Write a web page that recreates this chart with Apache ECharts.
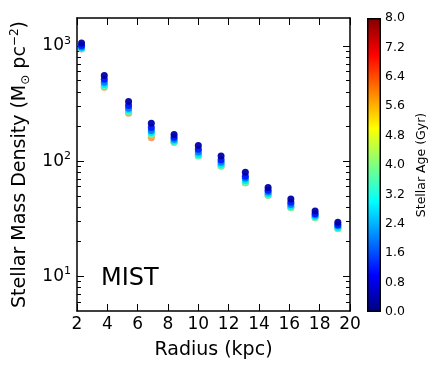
<!DOCTYPE html>
<html style="height: 100%">
<head>
    <meta charset="utf-8">
    <title>MIST</title>
</head>
<body style="height: 100%; margin: 0">
<div id="container" style="width: 429px; height: 366px"></div>
<script type="text/javascript" src="https://cdn.jsdelivr.net/npm/echarts@6.0.0/dist/echarts.min.js"></script>
<script type="text/javascript">
// radial bins (kpc)
var radius = [2.3, 3.8, 5.4, 6.9, 8.4, 10.0, 11.5, 13.1, 14.6, 16.1, 17.7, 19.2];
// stellar ages (Gyr), drawn oldest first so the young ones lie on top
var ages = [6.6, 5.6, 3.6, 2.8, 2.0, 1.2, 0.3];
// stellar mass density per age (Msun pc^-2)
var dens66 = [942, 438, 261, 160, 146, 112, 91, 65, 50.5, 39.5, 32.5, 26];
var dens56 = [944, 442, 264, 163, 146, 112, 91, 65, 50.5, 39.5, 32.5, 26];
var dens36 = [945, 450, 270, 170, 146, 111, 91, 65, 50.5, 39.5, 32.5, 26];
var dens28 = [960, 462, 278, 177, 150, 115, 94, 68, 52, 40.5, 33, 26.5];
var dens20 = [980, 485, 288, 185, 155, 120, 98, 71, 54, 42, 34, 27.5];
var dens12 = [1010, 515, 305, 196, 161, 127, 103, 74, 56, 44, 35, 28];
var dens03 = [1060, 555, 330, 213, 170, 137, 111, 80, 59, 47, 37, 29.5];
var densByAge = [dens66, dens56, dens36, dens28, dens20, dens12, dens03];
var xTicks = [2, 4, 6, 8, 10, 12, 14, 16, 18, 20];
var yMajor = [10, 100, 1000];
var yMinor = [6, 7, 8, 9, 20, 30, 40, 50, 60, 70, 80, 90, 200, 300, 400, 500, 600, 700, 800, 900];
var ageMax = 8;

function clamp(v) { return Math.max(0, Math.min(1, v)); }
function jet(t) {
    var r = clamp(1.5 - Math.abs(4 * t - 3));
    var g = clamp(1.5 - Math.abs(4 * t - 2));
    var b = clamp(1.5 - Math.abs(4 * t - 1));
    return 'rgb(' + Math.round(r * 255) + ',' + Math.round(g * 255) + ',' + Math.round(b * 255) + ')';
}

var jetStops = [];
for (var i = 0; i <= 40; i++) {
    jetStops.push({ offset: i / 40, color: jet(i / 40) });
}

var font = 'DejaVu Sans';
var dom = document.getElementById('container');
var myChart = echarts.init(dom);

var scatterSeries = ages.map(function (age, k) {
    return {
        type: 'scatter',
        xAxisIndex: 0,
        yAxisIndex: 0,
        symbolSize: 7,
        itemStyle: { color: jet(age / ageMax), opacity: age > 5 ? 0.5 : 0.95 },
        data: radius.map(function (r, j) { return [r, densByAge[k][j], age]; }),
        silent: true,
        z: 3 + k
    };
});

function yAxisCfg(pos, values, len, labels) {
    return {
        type: 'log',
        gridIndex: 0,
        position: pos,
        min: 5,
        max: 1750,
        logBase: 10,
        axisLine: { show: labels, lineStyle: { color: '#000', width: 1.5 } },
        axisTick: { show: true, inside: true, length: len, customValues: values, lineStyle: { color: '#000', width: 1 } },
        splitLine: { show: false },
        axisLabel: labels ? {
            show: pos === 'left',
            customValues: yMajor,
            margin: 6,
            formatter: function (v) {
                var e = Math.round(Math.log(v) / Math.LN10);
                return '{b|10}{s|' + e + '}';
            },
            rich: {
                b: { fontFamily: font, fontSize: 17, color: '#000' },
                s: { fontFamily: font, fontSize: 11, color: '#000', verticalAlign: 'top', padding: [0, 0, 10, 0] }
            }
        } : { show: false }
    };
}

var yLeft = yAxisCfg('left', yMajor, 7, true);
yLeft.name = '{t|Stellar Mass Density (M}{sub|\u2299}{t| pc}{sup|\u22122}{t|)}';
yLeft.nameLocation = 'middle';
yLeft.nameGap = 42;
yLeft.nameTextStyle = {
    rich: {
        t: { fontFamily: font, fontSize: 19, color: '#000' },
        sub: { fontFamily: font, fontSize: 12, color: '#000', padding: [10, 0, 0, 0] },
        sup: { fontFamily: font, fontSize: 12, color: '#000', padding: [0, 0, 12, 0] }
    }
};

var option = {
    animation: false,
    backgroundColor: '#fff',
    grid: [
        { left: 77, right: 79, top: 18, bottom: 55 },
        { left: 367, width: 15, top: 18, bottom: 54 }
    ],
    xAxis: [
        {
            type: 'value', gridIndex: 0, min: 2, max: 20, interval: 2,
            name: 'Radius (kpc)', nameLocation: 'middle', nameGap: 30,
            nameTextStyle: { fontFamily: font, fontSize: 19, color: '#000' },
            axisLine: { show: true, lineStyle: { color: '#000', width: 1.5 } },
            axisTick: { inside: true, length: 7, lineStyle: { color: '#000' } },
            axisLabel: { fontFamily: font, fontSize: 17, color: '#000', margin: 5 },
            splitLine: { show: false }
        },
        {
            type: 'value', gridIndex: 0, position: 'top', min: 2, max: 20, interval: 2,
            axisLine: { show: true, lineStyle: { color: '#000', width: 1.5 } },
            axisTick: { inside: true, length: 7, lineStyle: { color: '#000' } },
            axisLabel: { show: false },
            splitLine: { show: false }
        },
        {
            type: 'category', gridIndex: 1, data: ['age'], show: false
        }
    ],
    yAxis: [
        yLeft,
        yAxisCfg('left', yMinor, 4, false),
        yAxisCfg('right', yMajor, 7, true),
        yAxisCfg('right', yMinor, 4, false),
        {
            type: 'value', gridIndex: 1, position: 'right', min: 0, max: ageMax, interval: 0.8,
            name: 'Stellar Age (Gyr)', nameLocation: 'middle', nameGap: 34, nameRotate: 90,
            nameTextStyle: { fontFamily: font, fontSize: 12.5, color: '#000' },
            axisLine: { show: false },
            axisTick: { show: false },
            splitLine: { show: false },
            axisLabel: {
                fontFamily: font, fontSize: 12.5, color: '#000', margin: 4,
                formatter: function (v) { return v.toFixed(1); }
            }
        }
    ],
    series: scatterSeries.concat([
        {
            type: 'bar',
            xAxisIndex: 2,
            yAxisIndex: 4,
            barWidth: '100%',
            silent: true,
            data: [ageMax],
            itemStyle: {
                color: new echarts.graphic.LinearGradient(0, 1, 0, 0, jetStops),
                borderColor: '#000',
                borderWidth: 1.5
            }
        }
    ]),
    graphic: [
        {
            type: 'text',
            left: 101,
            top: 267,
            style: { text: 'MIST', fontFamily: font, fontSize: 24, fill: '#000' }
        }
    ]
};

myChart.setOption(option);
</script>
</body>
</html>
